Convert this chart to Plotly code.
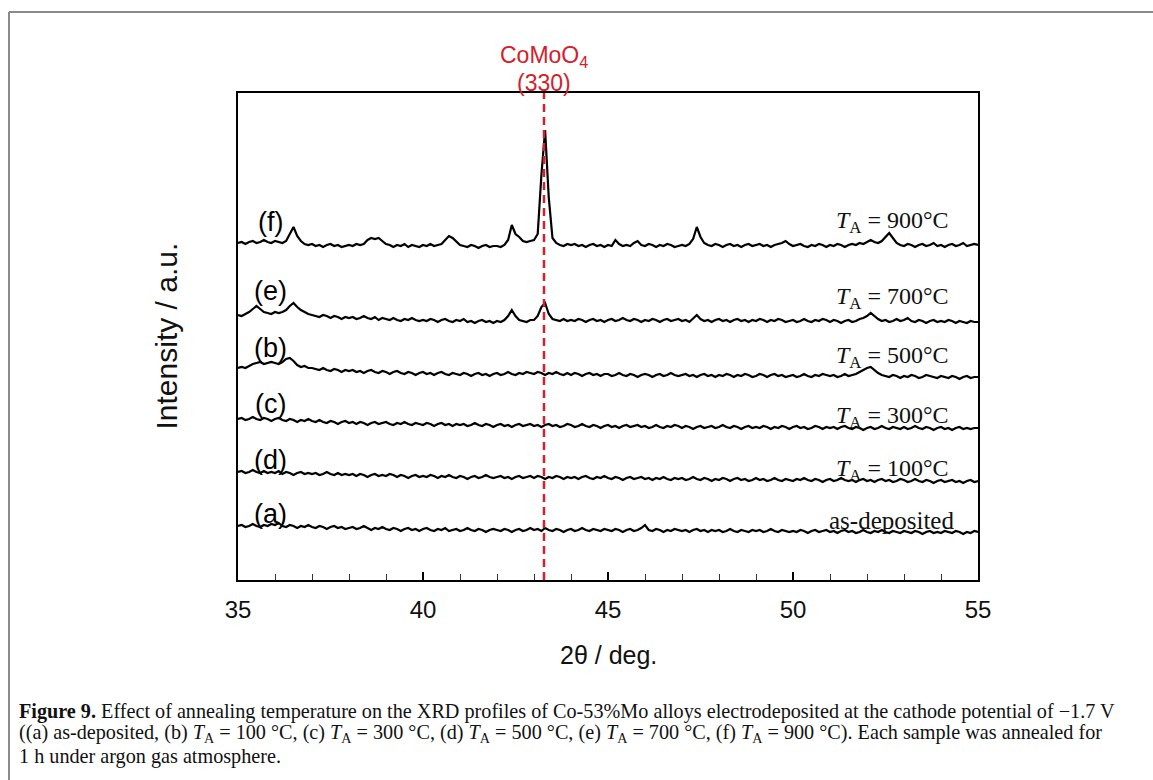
import numpy as np
import plotly.graph_objects as go

# ---------------- data ----------------
# 2θ grid, 35.0 ... 55.0 deg in 0.1 deg steps (201 points)
two_theta = np.round(np.arange(350, 551) / 10.0, 1)

# intensities (arbitrary units, already vertically offset as in the figure)
int_a = [
    54, 55, 53, 54, 56, 54, 53, 55, 54, 56,
    55, 57, 54, 53, 55, 54, 52, 54, 53, 55,
    53, 52, 54, 53, 51, 53, 54, 52, 53, 51,
    52, 53, 51, 52, 54, 52, 50, 52, 51, 53,
    51, 50, 52, 51, 49, 51, 52, 50, 51, 49,
    51, 52, 50, 49, 51, 50, 52, 49, 50, 51,
    49, 50, 52, 50, 49, 51, 50, 48, 50, 51,
    50, 49, 51, 50, 48, 50, 51, 49, 50, 52,
    50, 51, 49, 52, 50, 49, 51, 50, 48, 50,
    51, 49, 50, 52, 50, 49, 51, 50, 49, 51,
    50, 49, 51, 50, 48, 50, 51, 49, 50, 52,
    55, 50, 49, 51, 50, 48, 50, 49, 51, 50,
    49, 50, 48, 50, 51, 49, 50, 48, 50, 49,
    50, 48, 49, 51, 49, 48, 50, 49, 48, 50,
    49, 50, 48, 49, 51, 49, 48, 50, 49, 48,
    49, 48, 50, 49, 47, 49, 50, 48, 49, 50,
    48, 49, 47, 49, 50, 48, 49, 47, 48, 50,
    48, 47, 49, 48, 50, 48, 47, 49, 48, 47,
    49, 48, 47, 49, 48, 46, 48, 49, 47, 48,
    47, 49, 48, 47, 49, 48, 46, 48, 47, 49,
    48,
]

int_d = [
    108, 109, 107, 108, 110, 108, 107, 109, 107, 108,
    107, 109, 106, 108, 107, 105, 107, 108, 106, 107,
    106, 107, 105, 106, 108, 106, 105, 107, 105, 106,
    105, 106, 104, 106, 105, 103, 105, 106, 104, 105,
    104, 106, 105, 103, 105, 104, 102, 104, 105, 103,
    104, 103, 105, 104, 102, 104, 103, 105, 103, 102,
    104, 103, 101, 103, 104, 102, 103, 105, 103, 102,
    103, 104, 102, 103, 101, 103, 104, 102, 103, 104,
    102, 104, 103, 101, 103, 102, 104, 103, 101, 103,
    102, 103, 101, 103, 104, 102, 101, 103, 102, 104,
    102, 101, 103, 102, 100, 102, 103, 101, 102, 103,
    101, 102, 100, 102, 101, 103, 101, 100, 102, 101,
    102, 100, 101, 103, 101, 100, 102, 101, 99, 101,
    100, 102, 101, 99, 101, 102, 100, 101, 99, 100,
    102, 100, 101, 99, 100, 102, 100, 99, 101, 100,
    99, 101, 100, 102, 100, 99, 101, 100, 98, 100,
    101, 99, 100, 102, 100, 99, 100, 98, 100, 101,
    99, 100, 98, 100, 101, 99, 100, 98, 99, 101,
    100, 98, 99, 101, 99, 98, 100, 99, 97, 99,
    100, 98, 99, 100, 98, 99, 97, 99, 100, 98,
    99,
]

int_c = [
    161, 162, 160, 161, 163, 161, 160, 162, 161, 159,
    161, 162, 160, 159, 161, 160, 158, 160, 159, 161,
    159, 158, 160, 158, 157, 159, 158, 156, 158, 159,
    157, 158, 156, 158, 157, 155, 157, 158, 156, 157,
    158, 156, 155, 157, 156, 158, 156, 155, 157, 156,
    155, 157, 156, 154, 156, 157, 155, 156, 154, 156,
    155, 156, 154, 155, 157, 155, 154, 156, 155, 153,
    155, 156, 154, 155, 153, 155, 156, 154, 155, 156,
    154, 155, 153, 155, 156, 154, 155, 153, 154, 156,
    155, 153, 154, 156, 154, 153, 155, 154, 152, 154,
    155, 153, 154, 152, 154, 155, 153, 154, 155, 153,
    154, 152, 153, 155, 153, 152, 154, 153, 155, 154,
    152, 154, 153, 151, 153, 154, 152, 153, 154, 152,
    153, 155, 153, 152, 154, 153, 151, 153, 154, 152,
    153, 152, 154, 153, 151, 153, 152, 154, 153, 151,
    153, 154, 152, 153, 151, 152, 154, 153, 151, 153,
    152, 153, 151, 153, 154, 152, 151, 153, 152, 150,
    152, 153, 151, 152, 154, 152, 151, 153, 152, 151,
    153, 151, 152, 154, 152, 151, 153, 152, 150, 152,
    153, 151, 152, 150, 152, 153, 151, 152, 151, 152,
    152,
]

int_b = [
    212, 213, 212, 214, 216, 217, 218, 216, 217, 218,
    217, 216, 218, 221, 222, 219, 215, 213, 214, 212,
    212, 211, 210, 212, 210, 209, 211, 210, 208, 210,
    209, 210, 208, 209, 207, 209, 210, 208, 207, 209,
    208, 206, 208, 209, 207, 206, 208, 207, 205, 207,
    208, 206, 207, 205, 207, 208, 206, 205, 207, 206,
    205, 207, 206, 204, 206, 207, 205, 206, 204, 206,
    207, 205, 206, 208, 206, 205, 207, 206, 208, 207,
    206, 208, 207, 205, 207, 206, 208, 206, 205, 207,
    205, 207, 206, 204, 206, 207, 205, 206, 204, 206,
    206, 204, 205, 207, 205, 204, 206, 205, 203, 205,
    206, 205, 203, 205, 206, 204, 205, 207, 205, 204,
    205, 206, 204, 205, 203, 205, 206, 204, 205, 203,
    205, 204, 206, 205, 203, 205, 204, 206, 205, 203,
    204, 206, 205, 203, 205, 206, 204, 205, 203, 204,
    205, 203, 204, 206, 204, 203, 205, 204, 206, 205,
    204, 205, 203, 204, 206, 204, 205, 206, 208, 210,
    212, 213, 210, 207, 205, 204, 203, 205, 204, 202,
    204, 203, 205, 204, 202, 203, 205, 204, 203, 202,
    204, 203, 202, 204, 203, 201, 203, 204, 202, 203,
    203,
]

int_e = [
    265, 264, 266, 268, 271, 274, 271, 268, 267, 266,
    268, 267, 268, 270, 274, 277, 273, 270, 268, 266,
    265, 264, 263, 265, 264, 262, 264, 263, 261, 263,
    262, 263, 261, 262, 264, 262, 261, 263, 260, 262,
    261, 260, 262, 260, 259, 261, 260, 262, 260, 259,
    260, 259, 261, 260, 258, 260, 261, 259, 258, 260,
    259, 261, 258, 259, 257, 259, 260, 258, 259, 257,
    259, 258, 260, 264, 270, 264, 260, 259, 258, 260,
    260, 264, 273, 277, 266, 261, 260, 259, 261, 259,
    260, 259, 261, 260, 258, 260, 261, 259, 260, 258,
    260, 261, 259, 260, 262, 260, 259, 261, 260, 258,
    260, 259, 261, 260, 258, 260, 261, 259, 260, 261,
    259, 260, 258, 262, 265, 261, 259, 260, 258, 260,
    261, 259, 260, 258, 260, 261, 259, 260, 258, 260,
    259, 261, 260, 258, 260, 259, 261, 260, 258, 259,
    260, 258, 259, 261, 259, 258, 260, 259, 261, 260,
    258, 260, 259, 257, 259, 260, 258, 259, 261, 262,
    264, 267, 264, 261, 259, 260, 258, 259, 261, 259,
    260, 262, 259, 258, 260, 259, 257, 259, 260, 258,
    259, 258, 260, 259, 257, 259, 258, 257, 259, 258,
    258,
]

int_f = [
    337, 338, 336, 338, 339, 337, 338, 340, 338, 337,
    339, 338, 337, 339, 346, 353, 344, 339, 336, 335,
    336, 334, 335, 333, 335, 336, 334, 335, 333, 334,
    335, 334, 336, 335, 336, 340, 342, 341, 342, 339,
    336, 335, 333, 335, 334, 336, 333, 335, 334, 333,
    335, 334, 336, 334, 335, 336, 340, 344, 342, 338,
    335, 334, 333, 335, 334, 332, 334, 335, 333, 334,
    334, 333, 335, 340, 355, 346, 343, 339, 338, 339,
    340, 346, 405, 450, 382, 342, 337, 335, 334, 336,
    335, 336, 334, 335, 333, 335, 336, 334, 335, 333,
    335, 334, 340, 336, 334, 335, 334, 337, 339, 335,
    334, 336, 335, 333, 335, 334, 336, 335, 333, 334,
    335, 334, 336, 341, 353, 343, 337, 335, 334, 336,
    335, 333, 335, 336, 334, 335, 333, 335, 336, 334,
    335, 336, 334, 335, 333, 335, 336, 337, 339, 336,
    334, 335, 336, 334, 333, 335, 334, 336, 335, 333,
    335, 334, 336, 335, 333, 335, 336, 335, 337, 336,
    338, 340, 338, 337, 339, 343, 347, 342, 337, 335,
    334, 336, 335, 333, 335, 336, 334, 335, 337, 334,
    335, 333, 335, 336, 334, 335, 337, 334, 335, 336,
    335,
]

series_order = ["a", "d", "c", "b", "e", "f"]
series_values = {"a": int_a, "d": int_d, "c": int_c, "b": int_b, "e": int_e, "f": int_f}

# curve labels (left) and condition labels (right), with the level they sit at
left_labels = ["(f)", "(e)", "(b)", "(c)", "(d)", "(a)"]
left_label_levels = [358.5, 289, 232.5, 176, 120, 66]
right_labels = ["<i>T</i><sub>A</sub> = 900°C", "<i>T</i><sub>A</sub> = 700°C",
                "<i>T</i><sub>A</sub> = 500°C", "<i>T</i><sub>A</sub> = 300°C",
                "<i>T</i><sub>A</sub> = 100°C", "as-deposited"]
right_label_levels = [358, 282, 223, 163, 110, 60]

peak_position = 43.27
peak_label = ["CoMoO<sub>4</sub>", "(330)"]

tick_vals = [35, 40, 45, 50, 55]
tick_labels = ["35", "40", "45", "50", "55"]

caption_lines = [
    "<b>Figure 9.</b> Effect of annealing temperature on the XRD profiles of Co-53%Mo alloys "
    "electrodeposited at the cathode potential of \u22121.7 V",
    "((a) as-deposited, (b) <i>T</i><sub>A</sub> = 100 °C, (c) <i>T</i><sub>A</sub> = 300 °C, "
    "(d) <i>T</i><sub>A</sub> = 500 °C, (e) <i>T</i><sub>A</sub> = 700 °C, "
    "(f) <i>T</i><sub>A</sub> = 900 °C). Each sample was annealed for",
    "1 h under argon gas atmosphere.",
]

# ---------------- figure ----------------
W, H = 1153, 780
L, R, T, B = 238, 175, 93, 200
PW, PH = W - L - R, H - T - B


def px_x(p):
    return (p - L) / PW


def px_y(p):
    return (H - B - p) / PH


SANS = "Liberation Sans, Arial, Helvetica, sans-serif"
SERIF = "Liberation Serif, Times New Roman, serif"

fig = go.Figure()
for key in series_order:
    fig.add_trace(go.Scatter(
        x=two_theta, y=series_values[key], mode="lines",
        line=dict(color="black", width=2.2),
        showlegend=False, hoverinfo="skip", name=key,
    ))

annotations = []
for txt, lvl in zip(left_labels, left_label_levels):
    annotations.append(dict(x=35.87, y=lvl, xref="x", yref="y", text=txt,
                            showarrow=False, xanchor="center", yanchor="middle",
                            font=dict(family=SANS, size=27, color="black")))
for txt, lvl in zip(right_labels, right_label_levels):
    is_plain = txt == "as-deposited"
    annotations.append(dict(x=54.4 if is_plain else 54.27, y=lvl,
                            xref="x", yref="y", text=txt,
                            showarrow=False, xanchor="right", yanchor="middle",
                            font=dict(family=SERIF, size=25 if is_plain else 24, color="#111")))

annotations.append(dict(x=peak_position, y=px_y(56), xref="x", yref="paper",
                        text=peak_label[0], showarrow=False, xanchor="center",
                        yanchor="middle", font=dict(family=SANS, size=23, color="#d4202a")))
annotations.append(dict(x=peak_position, y=px_y(83), xref="x", yref="paper",
                        text=peak_label[1], showarrow=False, xanchor="center",
                        yanchor="middle", font=dict(family=SANS, size=23, color="#d4202a")))

# axis titles
annotations.append(dict(x=px_x(166), y=0.5, xref="paper", yref="paper",
                        text="Intensity / a.u.", textangle=-90, showarrow=False,
                        xanchor="center", yanchor="middle",
                        font=dict(family=SANS, size=30, color="#111")))
annotations.append(dict(x=0.5, y=px_y(655), xref="paper", yref="paper",
                        text="2θ / deg.", showarrow=False,
                        xanchor="center", yanchor="middle",
                        font=dict(family=SANS, size=25, color="#111")))

# caption
for i, line in enumerate(caption_lines):
    annotations.append(dict(x=px_x(17), y=px_y(711 + 22.5 * i), xref="paper", yref="paper",
                            text=line, showarrow=False, xanchor="left", yanchor="middle",
                            align="left", font=dict(family=SERIF, size=20.2, color="#111")))

shapes = [
    dict(type="line", xref="x", yref="paper", x0=peak_position, x1=peak_position,
         y0=0, y1=1, line=dict(color="#d4202a", width=2.5, dash="8px,5px")),
    # thin grey frame around the figure panel
    dict(type="line", xref="paper", yref="paper", x0=px_x(9), x1=px_x(W + 5),
         y0=px_y(12), y1=px_y(12), line=dict(color="#8a8a8a", width=2)),
    dict(type="line", xref="paper", yref="paper", x0=px_x(9), x1=px_x(9),
         y0=px_y(12), y1=px_y(H + 5), line=dict(color="#8a8a8a", width=2)),
]

fig.update_layout(
    width=W, height=H, autosize=False,
    margin=dict(l=L, r=R, t=T, b=B, pad=0),
    paper_bgcolor="white", plot_bgcolor="white",
    showlegend=False,
    annotations=annotations, shapes=shapes,
    xaxis=dict(range=[35, 55], showline=True, linecolor="black", linewidth=2,
               mirror=True, ticks="inside", ticklen=8, tickwidth=1.5, tickcolor="black",
               tickmode="array", tickvals=tick_vals, ticktext=tick_labels,
               minor=dict(ticks="inside", ticklen=6, tickwidth=1.2, dtick=1, tick0=35,
                          tickcolor="#333"),
               showgrid=False, zeroline=False, ticklabelstandoff=7,
               tickfont=dict(family=SANS, size=24, color="#111")),
    yaxis=dict(range=[0, 487], showline=True, linecolor="black", linewidth=2,
               mirror=True, ticks="", showticklabels=False, showgrid=False,
               zeroline=False),
)

fig.write_html("out.html", config={"displayModeBar": False},
               post_script="document.body.style.margin='0';document.body.style.overflow='hidden';")
